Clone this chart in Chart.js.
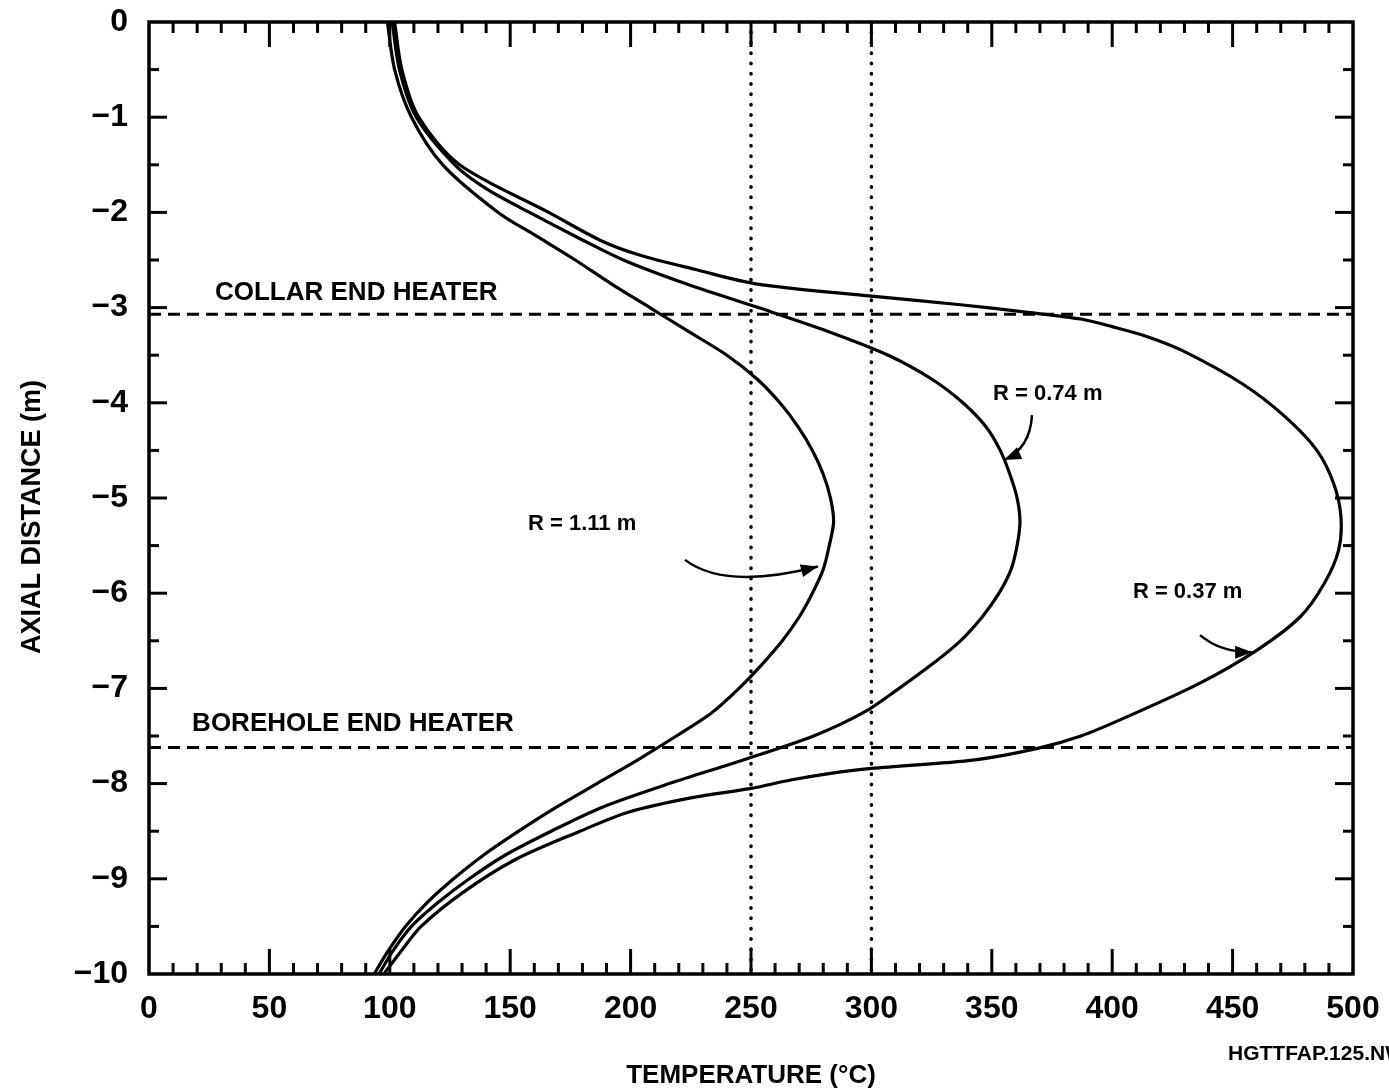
<!DOCTYPE html>
<html>
<head>
<meta charset="utf-8">
<script src="https://cdn.jsdelivr.net/npm/chart.js@4.4.0/dist/chart.umd.min.js"></script>
<style>
html, body { margin: 0; padding: 0; background: #fff; }
#wrap { width: 1389px; height: 1092px; }
</style>
</head>
<body>
<div id="wrap"><canvas id="grafico" width="1389" height="1092"></canvas></div>
<script>
// DATA (temperature in C vs axial distance in m)
const depth111 = [0, -0.5, -1, -1.5, -2, -2.25, -2.5, -2.75, -3, -3.25, -3.5, -3.75, -4, -4.25, -4.5, -4.75, -5, -5.25, -5.5, -5.75, -6, -6.25, -6.5, -6.75, -7, -7.25, -7.5, -7.75, -8, -8.25, -8.5, -8.75, -9, -9.25, -9.5, -9.75, -10];
const temp111  = [99, 102, 109, 122, 145, 161, 177, 192, 208, 224, 240, 252.5, 262, 269.5, 275.5, 280, 283, 284.3, 282.5, 280, 275.5, 270, 263, 254.5, 245, 234, 219, 203, 186, 169, 153.5, 139, 126.5, 115.5, 106.5, 99.5, 93.5];

const depth074 = [0, -0.5, -1, -1.5, -1.75, -2, -2.25, -2.5, -2.75, -3, -3.25, -3.5, -3.75, -4, -4.25, -4.5, -4.75, -5, -5.25, -5.5, -5.75, -6, -6.25, -6.5, -6.75, -7, -7.25, -7.5, -7.75, -8, -8.25, -8.5, -8.75, -9, -9.25, -9.5, -9.75, -10];
const temp074  = [101, 104, 111, 127, 140, 158, 177, 197, 223, 253, 282, 307, 325, 338, 347.5, 353.5, 357.5, 360.5, 361.7, 360.5, 358, 353, 346, 337, 325, 311.5, 297, 276, 247, 216, 188, 167, 148, 133, 120, 109, 101.5, 95.5];

const depth037 = [0, -0.5, -1, -1.5, -2, -2.3, -2.45, -2.6, -2.75, -2.88, -2.97, -3.05, -3.12, -3.2, -3.3, -3.45, -3.8, -4.15, -4.5, -4.85, -5.2, -5.55, -5.9, -6.25, -6.6, -6.95, -7.3, -7.5, -7.63, -7.75, -7.84, -7.9, -7.96, -8.05, -8.15, -8.3, -8.5, -8.8, -9.15, -9.5, -9.75, -10];
const temp037  = [102, 105, 112, 129, 166, 188, 204, 227, 252, 300, 337, 365, 387, 400, 414, 429, 454, 472, 485, 492, 495, 494, 488, 478, 460, 436, 406, 387, 369, 343, 300, 281, 267, 250, 225, 199, 179, 152, 130, 113, 105, 97.5];

const refTemps = [250, 300];          // dotted verticals
const collarDepth = -3.07;            // collar end heater
const boreholeDepth = -7.62;          // borehole end heater
const xTicks = [0, 50, 100, 150, 200, 250, 300, 350, 400, 450, 500];
const yTicks = [0, -1, -2, -3, -4, -5, -6, -7, -8, -9, -10];

function pts(temps, depths) {
  return temps.map(function (t, i) { return { x: t, y: depths[i] }; });
}

const curve = { showLine: true, pointRadius: 0, borderColor: '#000', borderWidth: 3.2, tension: 0.3, fill: false };
const dotted = { showLine: true, pointRadius: 0, borderColor: '#000', borderWidth: 3.5, borderDash: [0.5, 9.8], borderCapStyle: 'round', tension: 0 };
const dashed = { showLine: true, pointRadius: 0, borderColor: '#000', borderWidth: 3, borderDash: [12, 7], tension: 0 };

// labels + arrows in data units
const notes = [
  { text: 'COLLAR END HEATER', x: 27.4, y: -2.84, font: 'bold 26px "Liberation Sans", Arial, sans-serif' },
  { text: 'BOREHOLE END HEATER', x: 17.9, y: -7.37, font: 'bold 26px "Liberation Sans", Arial, sans-serif' },
  { text: 'R = 1.11 m', x: 157.4, y: -5.27, font: 'bold 22px "Liberation Sans", Arial, sans-serif' },
  { text: 'R = 0.74 m', x: 350.5, y: -3.91, font: 'bold 22px "Liberation Sans", Arial, sans-serif' },
  { text: 'R = 0.37 m', x: 408.6, y: -5.99, font: 'bold 22px "Liberation Sans", Arial, sans-serif' }
];
const arrows = [
  [[222.6, -5.65], [239.2, -5.97], [277.8, -5.72]],
  [[366.7, -4.13], [365.9, -4.48], [355.1, -4.60]],
  [[436.5, -6.44], [444.8, -6.62], [458.1, -6.62]]
];

const decor = {
  id: 'decor',
  afterDatasetsDraw(chart) {
    const c = chart.ctx, a = chart.chartArea;
    const sx = chart.scales.x, sy = chart.scales.y;
    c.save();
    c.strokeStyle = '#000';
    c.fillStyle = '#000';
    c.lineCap = 'butt';

    function seg(x1, y1, x2, y2) { c.beginPath(); c.moveTo(x1, y1); c.lineTo(x2, y2); c.stroke(); }

    // inward ticks
    c.lineWidth = 3;
    for (let t = 10; t < 500; t += 10) {
      const px = sx.getPixelForValue(t);
      const len = t % 50 === 0 ? 25 : 11;
      seg(px, a.bottom, px, a.bottom - len);
      seg(px, a.top, px, a.top + len);
    }
    for (let k = 1; k < 20; k++) {
      const d = -k / 2;
      const py = sy.getPixelForValue(d);
      const len = k % 2 === 0 ? 18 : 10;
      seg(a.left, py, a.left + len, py);
      seg(a.right, py, a.right - len, py);
    }

    // frame
    c.lineWidth = 3.5;
    c.strokeRect(a.left, a.top, a.right - a.left, a.bottom - a.top);

    // notes
    c.textBaseline = 'middle';
    c.textAlign = 'left';
    notes.forEach(function (n) {
      c.font = n.font;
      c.fillText(n.text, sx.getPixelForValue(n.x), sy.getPixelForValue(n.y));
    });

    // arrows
    c.lineWidth = 2.5;
    arrows.forEach(function (ar) {
      const p = ar.map(function (q) { return [sx.getPixelForValue(q[0]), sy.getPixelForValue(q[1])]; });
      c.beginPath();
      c.moveTo(p[0][0], p[0][1]);
      c.quadraticCurveTo(p[1][0], p[1][1], p[2][0], p[2][1]);
      c.stroke();
      const ang = Math.atan2(p[2][1] - p[1][1], p[2][0] - p[1][0]);
      const L = 17, W = 6.5;
      const bx = p[2][0] - L * Math.cos(ang), by = p[2][1] - L * Math.sin(ang);
      c.beginPath();
      c.moveTo(p[2][0], p[2][1]);
      c.lineTo(bx + W * Math.sin(ang), by - W * Math.cos(ang));
      c.lineTo(bx - W * Math.sin(ang), by + W * Math.cos(ang));
      c.closePath();
      c.fill();
    });

    // axis titles
    c.font = 'bold 26px "Liberation Sans", Arial, sans-serif';
    c.textAlign = 'center';
    c.fillText('TEMPERATURE (\u00B0C)', sx.getPixelForValue(250), 1076);
    c.save();
    c.font = 'bold 27px "Liberation Sans", Arial, sans-serif';
    c.translate(33, sy.getPixelForValue(-5.2));
    c.rotate(-Math.PI / 2);
    c.fillText('AXIAL DISTANCE (m)', 0, 0);
    c.restore();

    // figure id
    c.font = 'bold 21px "Liberation Sans", Arial, sans-serif';
    c.textAlign = 'left';
    c.fillText('HGTTFAP.125.NW', 1228, 1054);
    c.restore();
  }
};

const ctx = document.getElementById('grafico');

new Chart(ctx, {
  type: 'scatter',
  data: {
    datasets: [
      Object.assign({ label: 'R = 1.11 m', data: pts(temp111, depth111) }, curve),
      Object.assign({ label: 'R = 0.74 m', data: pts(temp074, depth074) }, curve),
      Object.assign({ label: 'R = 0.37 m', data: pts(temp037, depth037) }, curve),
      Object.assign({ label: '250', data: [{ x: refTemps[0], y: 0 }, { x: refTemps[0], y: -10 }] }, dotted),
      Object.assign({ label: '300', data: [{ x: refTemps[1], y: 0 }, { x: refTemps[1], y: -10 }] }, dotted),
      Object.assign({ label: 'collar', data: [{ x: 0, y: collarDepth }, { x: 500, y: collarDepth }] }, dashed),
      Object.assign({ label: 'borehole', data: [{ x: 0, y: boreholeDepth }, { x: 500, y: boreholeDepth }] }, dashed)
    ]
  },
  options: {
    responsive: false,
    animation: false,
    layout: { padding: { top: 22, right: 36, left: 0, bottom: 0 } },
    plugins: { legend: { display: false }, tooltip: { enabled: false } },
    scales: {
      x: {
        type: 'linear', min: 0, max: 500,
        afterBuildTicks: function (s) { s.ticks = xTicks.map(function (v) { return { value: v }; }); },
        afterFit: function (s) { s.height = 118; s.paddingLeft = 0; s.paddingRight = 0; },
        grid: { display: false, drawTicks: false },
        border: { display: false },
        ticks: { color: '#000', padding: 16, maxRotation: 0, font: { family: '"Liberation Sans", Arial, sans-serif', size: 32, weight: 'bold' } }
      },
      y: {
        type: 'linear', min: -10, max: 0,
        afterBuildTicks: function (s) { s.ticks = yTicks.map(function (v) { return { value: v }; }); },
        afterFit: function (s) { s.width = 149; s.paddingTop = 0; s.paddingBottom = 0; },
        grid: { display: false, drawTicks: false },
        border: { display: false },
        ticks: {
          color: '#000', padding: 21,
          font: { family: '"Liberation Sans", Arial, sans-serif', size: 32, weight: 'bold' },
          callback: function (v) { return v < 0 ? '\u2212' + Math.abs(v) : String(v); }
        }
      }
    }
  },
  plugins: [decor]
});
</script>
</body>
</html>
